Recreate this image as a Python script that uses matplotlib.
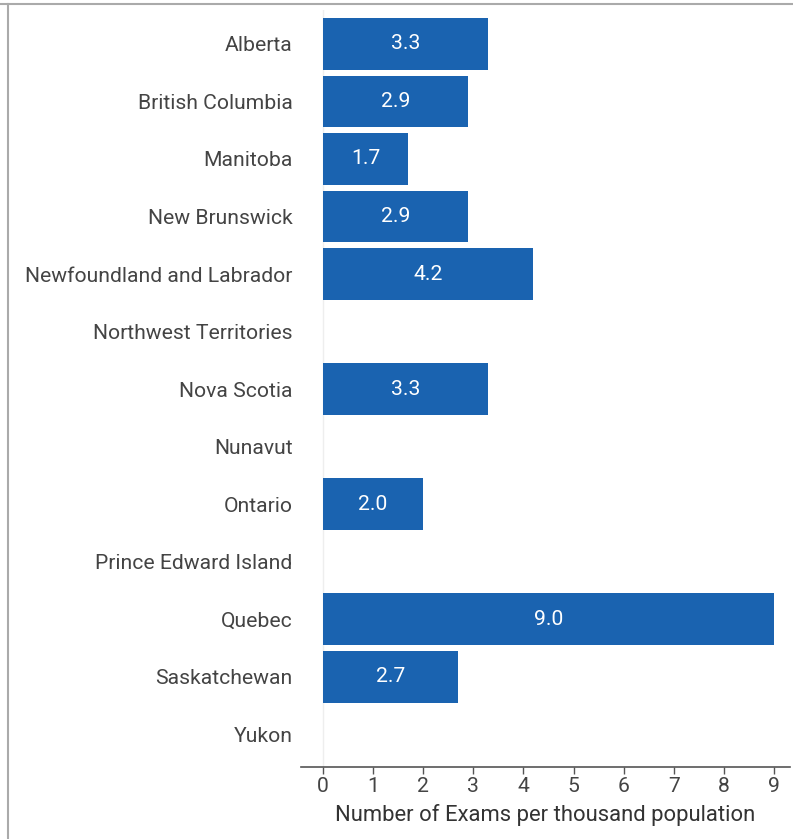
import numpy as np
import matplotlib.pyplot as plt
from matplotlib.lines import Line2D

provinces = ["Alberta", "British Columbia", "Manitoba", "New Brunswick",
             "Newfoundland and Labrador", "Northwest Territories", "Nova Scotia",
             "Nunavut", "Ontario", "Prince Edward Island", "Quebec",
             "Saskatchewan", "Yukon"]
exams = [3.3, 2.9, 1.7, 2.9, 4.2, np.nan, 3.3, np.nan, 2.0, np.nan, 9.0, 2.7, np.nan]
xticks = list(range(10))

plt.rcParams['font.family'] = ['Roboto', 'DejaVu Sans']
textcol = '#444444'
barcol = '#1a63b0'
fs = 15.2

W, H = 793, 839
fig = plt.figure(figsize=(W / 100, H / 100), dpi=100)
ax = fig.add_axes([301 / W, 1 - 767 / H, (790 - 301) / W, (767 - 10) / H])

y = np.arange(len(provinces))
vals = np.nan_to_num(np.array(exams, dtype=float))
bars = ax.barh(y, vals, height=0.9, color=barcol)
for b, v in zip(bars, exams):
    if not np.isnan(v):
        ax.text(v / 2, b.get_y() + b.get_height() / 2, f"{v:.1f}",
                ha='center', va='center', color='white', fontsize=fs)

ax.axvline(0, color='#eeeeee', lw=1, zorder=0)

ax.set_xlim(-0.44, 9.32)
ax.set_ylim(12.57, -0.59)
ax.set_yticks(y)
ax.set_yticklabels(provinces, fontsize=fs, color=textcol)
ax.tick_params(axis='y', length=0, pad=6)
ax.set_xticks(xticks)
ax.set_xticklabels([str(t) for t in xticks], fontsize=fs, color=textcol)
ax.tick_params(axis='x', length=5, width=1, color='#555555', pad=2)
ax.set_xlabel("Number of Exams per thousand population", fontsize=15.8,
              color='#333333', labelpad=6)

for s in ['top', 'right', 'left']:
    ax.spines[s].set_visible(False)
ax.spines['bottom'].set_color('#555555')
ax.spines['bottom'].set_linewidth(1.2)

# thin frame on top and left edge
fig.add_artist(Line2D([0, 1], [1 - 4 / H, 1 - 4 / H], color='#aaaaaa', lw=1.5))
fig.add_artist(Line2D([8 / W, 8 / W], [0, 1 - 4 / H], color='#aaaaaa', lw=1.5))

fig.savefig("out.png", dpi=100)
